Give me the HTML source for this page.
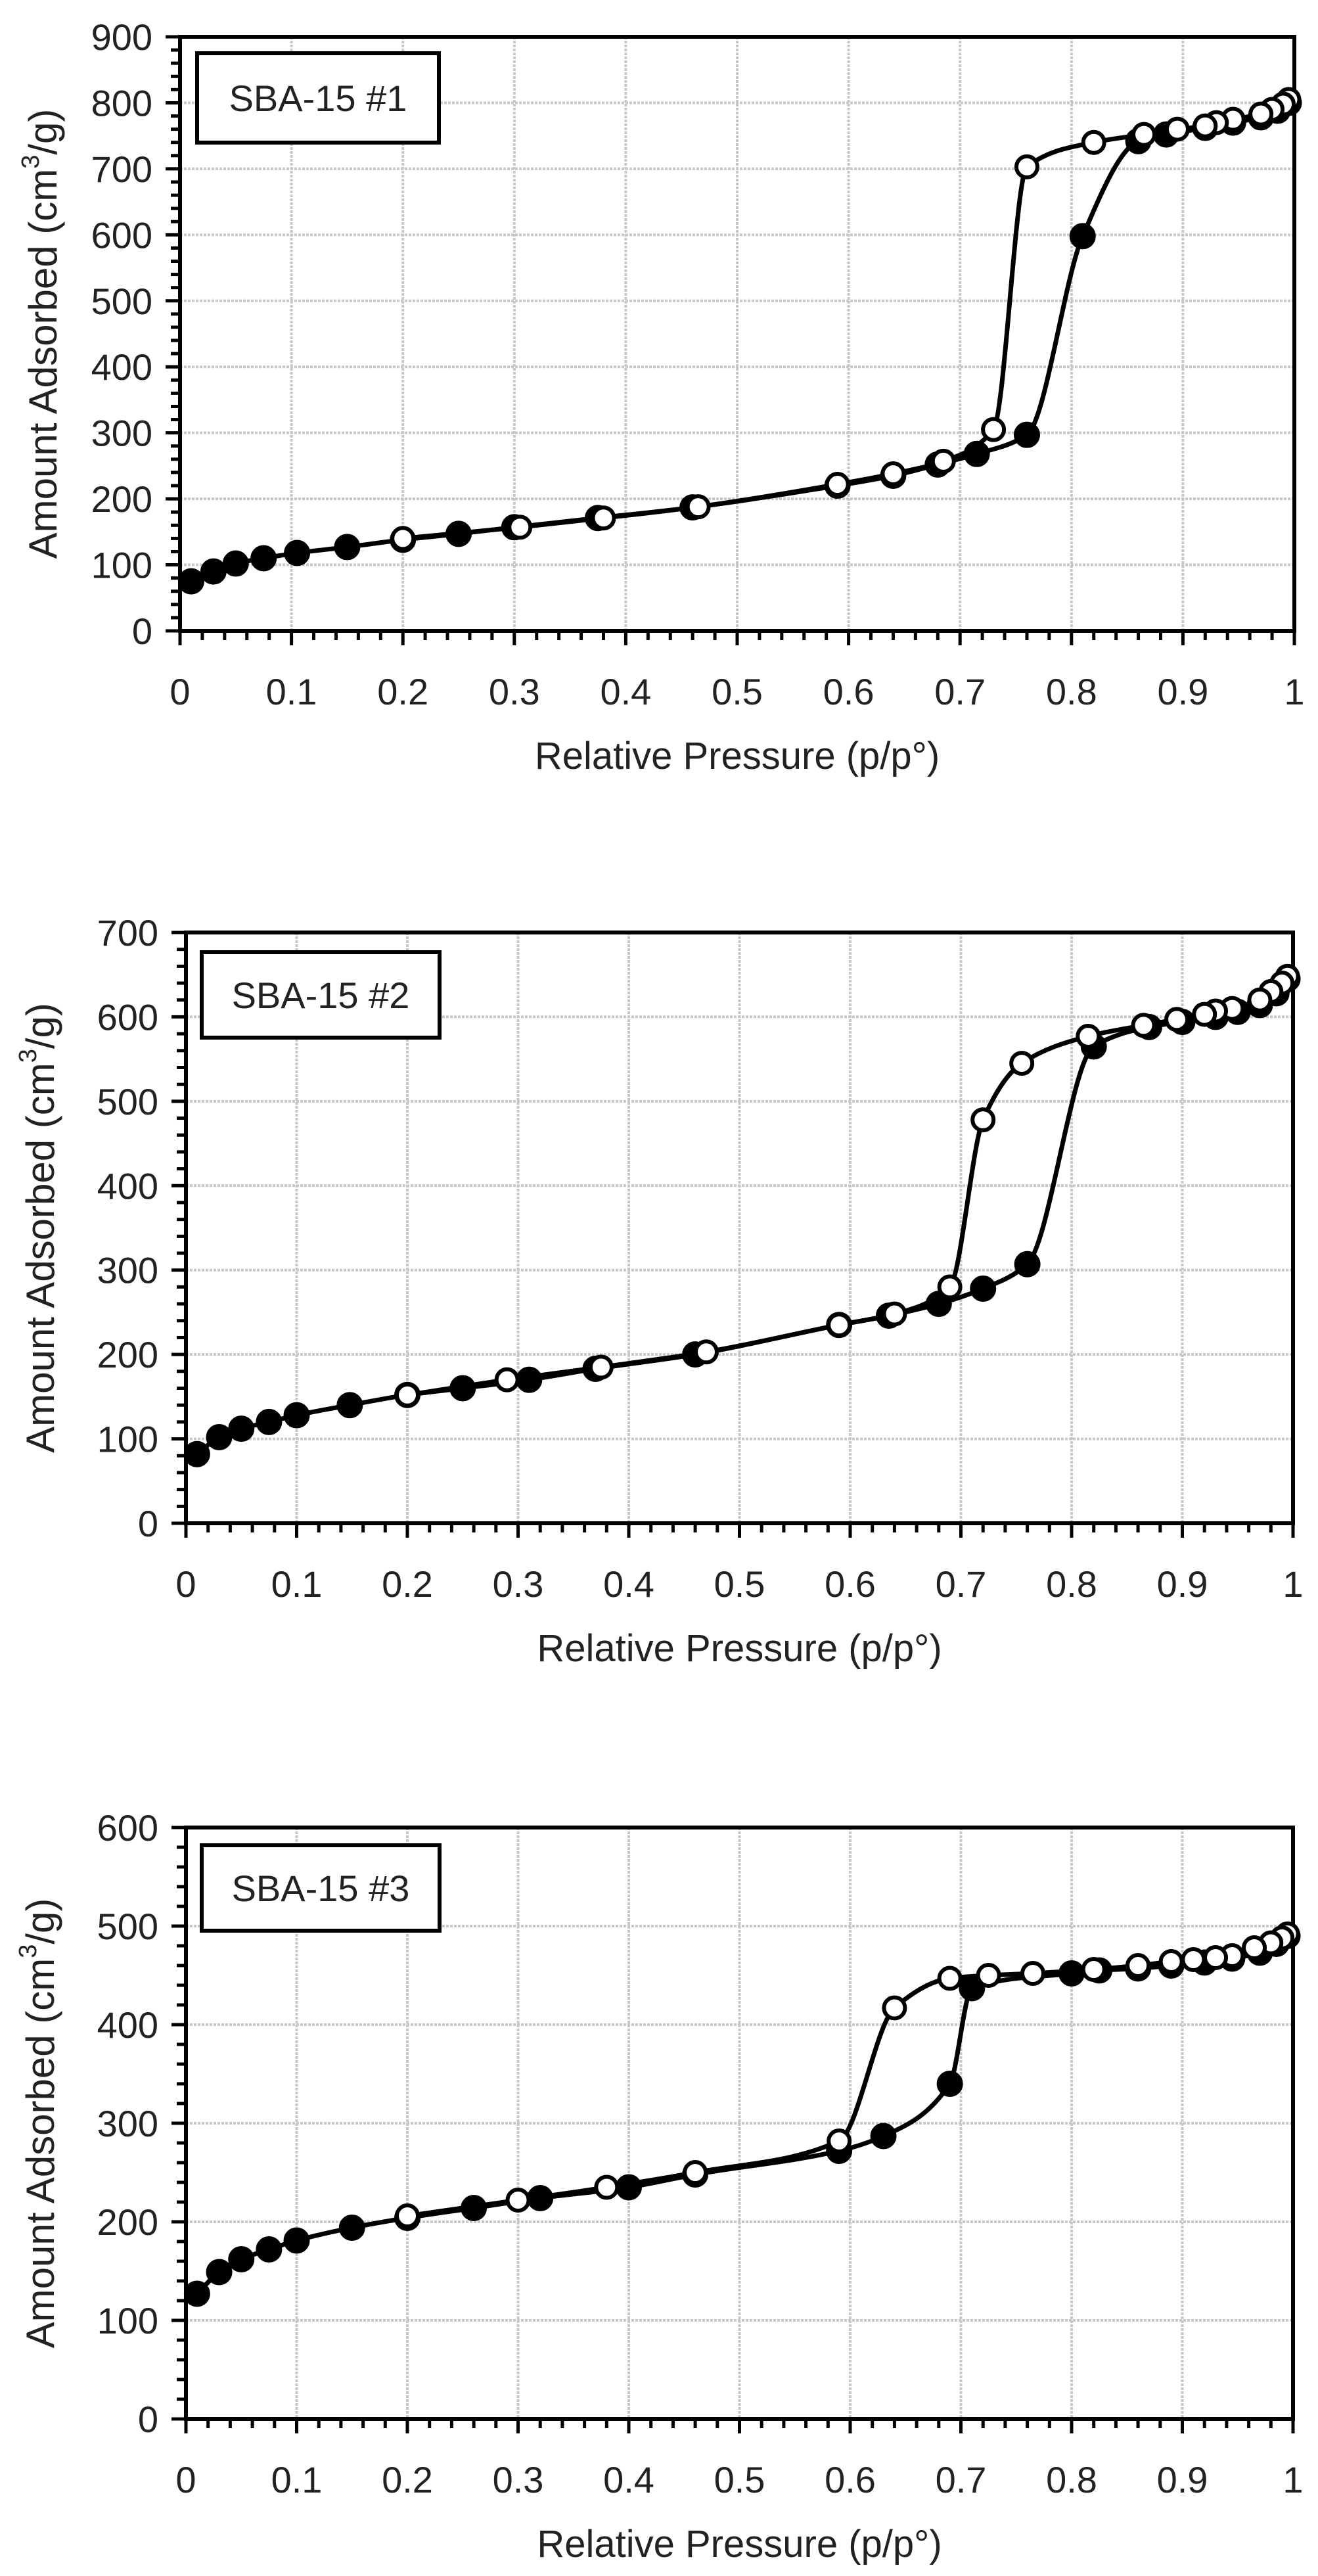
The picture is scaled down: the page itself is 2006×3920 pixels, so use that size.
<!DOCTYPE html>
<html><head><meta charset="utf-8"><style>
html,body{margin:0;padding:0;background:#fff;}
svg{display:block;}
text{font-family:"Liberation Sans",sans-serif;fill:#222;}
</style></head><body>
<svg id="chart" width="2006" height="3920" viewBox="0 0 2006 3920" xmlns="http://www.w3.org/2000/svg"></svg>
<script>
// ---- Data: SBA-15 #1 ----
const ads1P = [0.01,0.03,0.05,0.075,0.105,0.15,0.2,0.25,0.3,0.375,0.46,0.59,0.64,0.68,0.715,0.76,0.81,0.86,0.885,0.92,0.945,0.97,0.985,0.995];
const ads1V = [75,90,102,110,118,127,138,147,157,171,187,220,235,252,268,297,598,742,752,762,770,778,788,800];
const des1P = [0.995,0.99,0.98,0.97,0.945,0.93,0.92,0.895,0.865,0.82,0.76,0.73,0.685,0.64,0.59,0.465,0.38,0.305,0.2];
const des1V = [805,798,790,783,775,770,765,760,752,740,703,305,257,238,222,188,171,157,140];
// ---- Data: SBA-15 #2 ----
const ads2P = [0.01,0.03,0.05,0.075,0.1,0.148,0.2,0.25,0.31,0.37,0.46,0.59,0.635,0.68,0.72,0.76,0.82,0.87,0.9,0.93,0.95,0.97,0.985,0.995];
const ads2V = [82,102,112,120,128,140,152,160,170,183,200,235,246,260,278,307,565,588,594,600,606,614,628,645];
const des2P = [0.995,0.99,0.98,0.97,0.945,0.93,0.92,0.895,0.865,0.815,0.755,0.72,0.69,0.64,0.59,0.47,0.375,0.29,0.2];
const des2V = [648,640,630,620,610,607,603,597,590,577,545,478,280,248,235,203,185,170,152];
// ---- Data: SBA-15 #3 ----
const ads3P = [0.01,0.03,0.05,0.075,0.1,0.15,0.2,0.26,0.32,0.4,0.46,0.59,0.63,0.69,0.71,0.8,0.825,0.86,0.89,0.92,0.945,0.97,0.985,0.995];
const ads3V = [127,149,162,172,181,194,204,214,224,235,248,272,287,340,437,452,455,457,460,463,467,473,482,490];
const des3P = [0.995,0.99,0.98,0.965,0.945,0.93,0.91,0.89,0.86,0.82,0.765,0.725,0.69,0.64,0.59,0.46,0.38,0.3,0.2];
const des3V = [492,488,483,478,470,468,466,464,460,456,452,450,447,417,282,250,235,222,206];
// ---- Tick labels ----
const xTickLabels = ["0","0.1","0.2","0.3","0.4","0.5","0.6","0.7","0.8","0.9","1"];
const yTicks1 = [0,100,200,300,400,500,600,700,800,900];
const yTicks2 = [0,100,200,300,400,500,600,700];
const yTicks3 = [0,100,200,300,400,500,600];
const titles = ["SBA-15 #1","SBA-15 #2","SBA-15 #3"];

const NS = "http://www.w3.org/2000/svg";
const svg = document.getElementById('chart');
function mk(tag, attrs, parent){
  const e = document.createElementNS(NS, tag);
  for (const k in attrs) e.setAttribute(k, attrs[k]);
  (parent||svg).appendChild(e);
  return e;
}
// monotone cubic (Fritsch-Carlson) in screen x
function monoPath(ptsIn){
  const pts = ptsIn.slice().sort((a,b)=>a[0]-b[0]);
  const n = pts.length;
  const dx=[], m=[], t=[];
  for (let i=0;i<n-1;i++){ dx[i]=Math.max(pts[i+1][0]-pts[i][0],0.01); m[i]=(pts[i+1][1]-pts[i][1])/dx[i]; }
  t[0]=m[0]; t[n-1]=m[n-2];
  for (let i=1;i<n-1;i++){
    if (m[i-1]*m[i]<=0) t[i]=0;
    else { const w1=2*dx[i]+dx[i-1], w2=dx[i]+2*dx[i-1]; t[i]=(w1+w2)/(w1/m[i-1]+w2/m[i]); }
  }
  let d="M"+pts[0][0]+","+pts[0][1];
  for (let i=0;i<n-1;i++){
    const h=dx[i]/3;
    d+=" C"+(pts[i][0]+h)+","+(pts[i][1]+t[i]*h)+" "+(pts[i+1][0]-h)+","+(pts[i+1][1]-t[i+1]*h)+" "+pts[i+1][0]+","+pts[i+1][1];
  }
  return d;
}

const layouts = [
  {L:274,R:1970,T:56,B:960,ymax:900,yt:yTicks1,ads:[ads1P,ads1V],des:[des1P,des1V],box:[300,81,368,136],ytx:70},
  {L:283,R:1968,T:1419,B:2318,ymax:700,yt:yTicks2,ads:[ads2P,ads2V],des:[des2P,des2V],box:[307,1449,362,130],ytx:66},
  {L:283,R:1968,T:2781,B:3681,ymax:600,yt:yTicks3,ads:[ads3P,ads3V],des:[des3P,des3V],box:[307,2808,362,130],ytx:66}
];

layouts.forEach((c, ci) => {
  const g = mk('g', {});
  
  
  const xs = p => c.L + p*(c.R-c.L);
  const ys = v => c.B - v/c.ymax*(c.B-c.T);
  const grid = mk('g', {stroke:'#c8c8c8','stroke-width':4,'stroke-dasharray':'4,2'}, g);
  
  
  for (let i=1;i<xTickLabels.length-1;i++) mk('line',{x1:xs(i/10),x2:xs(i/10),y1:c.T,y2:c.B},grid);
  c.yt.forEach(v => { if (v>0 && v<c.ymax) mk('line',{x1:c.L,x2:c.R,y1:ys(v),y2:ys(v)},grid); });
  const ticks = mk('g',{stroke:'#000','stroke-width':5},g);
  
  
  for (let i=0;i<=50;i++){ const x=xs(i/50); mk('line',{x1:x,x2:x,y1:c.B,y2:c.B+(i%5===0?22:14)},ticks); }
  const ymaj = c.yt[1]-c.yt[0];
  for (let v=0; v<=c.ymax+0.01; v+=ymaj/5){ const y=ys(v); const maj=Math.abs(v/ymaj-Math.round(v/ymaj))<0.01; mk('line',{x1:c.L-(maj?22:14),x2:c.L,y1:y,y2:y},ticks); }
  const fr = mk('rect',{x:c.L,y:c.T,width:c.R-c.L,height:c.B-c.T,fill:'none',stroke:'#000','stroke-width':6},g);
  
  
  xTickLabels.forEach((t,i) => {
    const e = mk('text',{x:xs(i/10),y:c.B+112,'font-size':56,'text-anchor':'middle'},g);
    
    
    e.textContent = t;
  });
  c.yt.forEach(v => {
    const e = mk('text',{x:c.L-42,y:ys(v)+20,'font-size':56,'text-anchor':'end'},g);
    
    
    e.textContent = v;
  });
  const xt = mk('text',{x:(c.L+c.R)/2,y:c.B+210,'font-size':58,'text-anchor':'middle'},g);
  
  
  xt.textContent = 'Relative Pressure (p/p°)';
  const ym = (c.T+c.B)/2;
  const yt = mk('text',{x:c.ytx,y:ym,'font-size':60,'text-anchor':'middle',transform:'rotate(-90 '+c.ytx+' '+ym+')','dominant-baseline':'middle'},g);
  
  
  yt.innerHTML = 'Amount Adsorbed (cm<tspan baseline-shift="super" font-size="38">3</tspan>/g)';
  const bx = mk('rect',{x:c.box[0],y:c.box[1],width:c.box[2],height:c.box[3],fill:'#fff',stroke:'#000','stroke-width':6},g);
  
  
  const bt = mk('text',{x:c.box[0]+c.box[2]/2,y:c.box[1]+c.box[3]/2+20,'font-size':56,'text-anchor':'middle'},g);
  
  
  bt.textContent = titles[ci];
  const adsPts = c.ads[0].map((p,i)=>[xs(p),ys(c.ads[1][i])]);
  const desPts = c.des[0].map((p,i)=>[xs(p),ys(c.des[1][i])]);
  const l1 = mk('path',{d:monoPath(adsPts),fill:'none',stroke:'#000','stroke-width':7},g);
  
  
  const l2 = mk('path',{d:monoPath(desPts),fill:'none',stroke:'#000','stroke-width':7},g);
  
  
  adsPts.forEach(pt => {
    const m = mk('circle',{cx:pt[0],cy:pt[1],r:18,fill:'#000',stroke:'#000','stroke-width':4},g);
    
    
  });
  desPts.forEach(pt => {
    const m = mk('circle',{cx:pt[0],cy:pt[1],r:16,fill:'#fff',stroke:'#000','stroke-width':6},g);
    
    
  });
});
</script>
</body></html>
